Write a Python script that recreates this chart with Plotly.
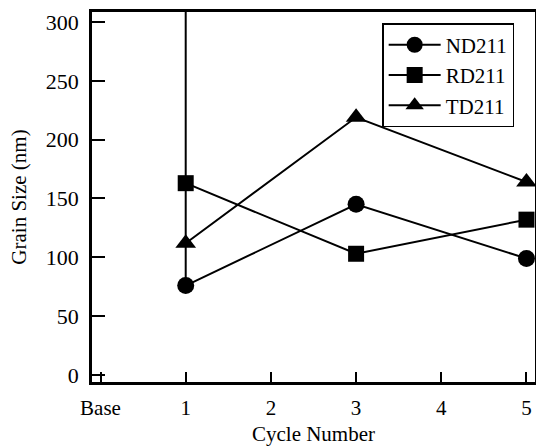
import plotly.graph_objects as go

cycles = [1, 3, 5]
tick_vals = [0, 1, 2, 3, 4, 5]
tick_text = ["Base", "1", "2", "3", "4", "5"]
nd211 = [76, 145, 99]
rd211 = [163, 103, 132]
td211 = [112, 219, 164]
spike_x = [1, 1]
spike_y = [76, 320]

FONT = "Liberation Serif, Times New Roman, serif"
fig = go.Figure()
fig.add_trace(go.Scatter(x=spike_x, y=spike_y, mode="lines", showlegend=False,
                         line=dict(color="black", width=2), hoverinfo="skip"))
specs = [("ND211", nd211, "circle", 17), ("RD211", rd211, "square", 16),
         ("TD211", td211, "triangle-up", 18)]
for name, vals, sym, sz in specs:
    fig.add_trace(go.Scatter(x=cycles, y=vals, name=name, mode="lines+markers",
                             line=dict(color="black", width=2),
                             marker=dict(symbol=sym, size=sz, color="black")))

fig.update_layout(
    width=536, height=446,
    margin=dict(l=92, r=1, t=12, b=64),
    paper_bgcolor="white", plot_bgcolor="white",
    font=dict(family=FONT, size=20, color="black"),
    showlegend=True,
    legend=dict(x=0.655, y=0.97, xanchor="left", yanchor="top",
                bordercolor="black", borderwidth=1.5, bgcolor="white",
                font=dict(family=FONT, size=21), tracegroupgap=0,
                itemwidth=52),
    xaxis=dict(range=[-0.1, 5.1], tickvals=tick_vals, ticktext=tick_text,
               ticks="inside", ticklen=10, tickwidth=2, tickcolor="black",
               showline=True, linewidth=2.5, linecolor="black", mirror=True,
               showgrid=False, zeroline=False, automargin=False,
               ticklabeloverflow="allow", ticklabelstandoff=5,
               title=dict(text="Cycle Number", font=dict(family=FONT, size=21), standoff=14),
               tickfont=dict(family=FONT, size=21)),
    yaxis=dict(range=[-6, 308.5], tickvals=[0, 50, 100, 150, 200, 250, 300],
               ticks="inside", ticklen=13, tickwidth=2, tickcolor="black",
               showline=True, linewidth=2.5, linecolor="black", mirror=True,
               showgrid=False, zeroline=False, automargin=False,
               ticklabelstandoff=6,
               title=dict(text="Grain Size (nm)", font=dict(family=FONT, size=21), standoff=14),
               tickfont=dict(family=FONT, size=22)),
)
fig.write_html("out.html", config={"displayModeBar": False},
               post_script="document.body.style.margin='0';document.body.style.overflow='hidden';")
